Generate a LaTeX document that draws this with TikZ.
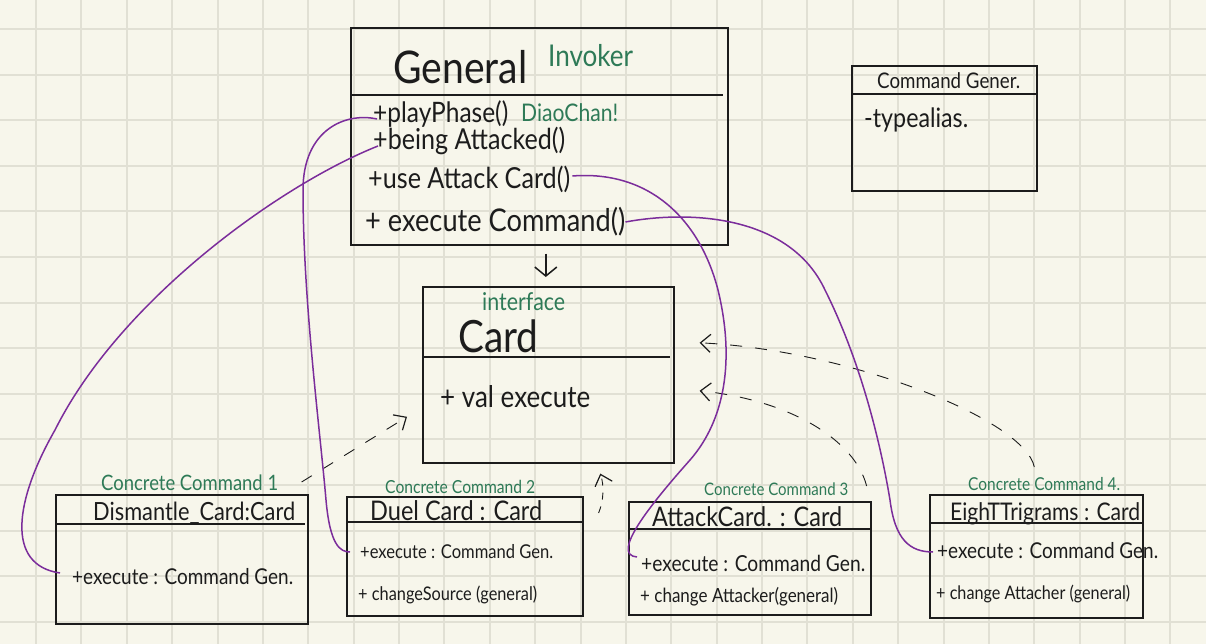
\documentclass[tikz,border=0pt]{standalone}
\usepackage{fontspec}
\usepackage{graphicx}
\setmainfont{Lato}
\usetikzlibrary{arrows.meta}
\definecolor{paper}{HTML}{F7F6EB}
\definecolor{gridc}{HTML}{E1E0D4}
\definecolor{ink}{HTML}{1C1C1C}
\definecolor{note}{HTML}{2E7A57}
\definecolor{link}{HTML}{7B2D9B}
\newcommand{\fitw}[2]{\scalebox{1}[1.15]{\resizebox{#1pt}{!}{#2}}}
\begin{document}
\begin{tikzpicture}[x=1pt,y=-1pt,
  umlbox/.style={draw=ink, line width=1.6pt, inner sep=0pt, anchor=north west},
  sepline/.style={draw=ink, line width=1.4pt},
  txt/.style={inner sep=0pt, anchor=base west, text=ink},
  notetxt/.style={inner sep=0pt, anchor=base west, text=note},
  linkline/.style={draw=link, line width=1.5pt},
  gridl/.style={draw=gridc, line width=2pt},
  assoc/.style={draw=ink, line width=1.4pt, -{Straight Barb[length=9pt,width=22pt,line width=1.5pt]}},
  realize/.style={draw=ink, line width=0.9pt, dash pattern=on 12pt off 13pt, -{Straight Barb[length=10pt,width=18pt,line width=1.2pt]}},
  shortrealize/.style={realize, dash pattern=on 7pt off 7pt}]
\useasboundingbox (0,0) rectangle (1206,644);
\fill[paper] (0,0) rectangle (1206,644);
\begin{scope}
\clip (0,0) rectangle (1206,644);
\foreach \i in {-1,...,26} { \draw[gridl] ({36+45.375*\i},0) -- ({36+45.375*\i},644); }
\foreach \j in {-1,...,14} { \draw[gridl] (0,{29+45.6*\j}) -- (1206,{29+45.6*\j}); }
\end{scope}

% General
\node[umlbox, minimum width=377pt, minimum height=217pt] (gen) at (350,27) {};
\draw[sepline] (350,95) -- (723,95);
\node[txt] (gtitle) at (393,84) {\fitw{134}{General}};
\node[notetxt] (ginv) at (548,67) {\fitw{85}{Invoker}};
\node[txt] (gplay) at (373,123) {\fitw{135}{+playPhase()}};
\node[notetxt] (gdiao) at (521,122) {\fitw{97}{DiaoChan!}};
\node[txt] (gatt) at (373,150) {\fitw{192}{+being Attacked()}};
\node[txt] (guse) at (368,189) {\fitw{202}{+use Attack Card()}};
\node[txt] (gexe) at (365,231) {\fitw{260}{+ execute Command()}};

% Command Gener
\node[umlbox, minimum width=185pt, minimum height=125pt] (cg) at (851,65) {};
\draw[sepline] (851,94) -- (1036,94);
\node[txt] (cgt) at (877,89) {\fitw{143}{Command Gener.}};
\node[txt] (cga) at (864,128) {\fitw{104}{-typealias.}};

% Card
\node[umlbox, minimum width=251pt, minimum height=176pt] (card) at (422,286) {};
\draw[sepline] (422,357) -- (670,357);
\node[notetxt] (cif) at (482,310) {\fitw{83}{interface}};
\node[txt] (ct) at (458,352) {\fitw{80}{Card}};
\node[txt] (cval) at (440,407) {\fitw{150}{+ val execute}};

% Concrete command 1
\node[umlbox, minimum width=252pt, minimum height=129pt] (d1) at (55,494) {};
\draw[sepline] (55,524) -- (305,524);
\node[notetxt] (d1n) at (101,490) {\fitw{177}{Concrete Command 1}};
\node[txt] (d1t) at (93,520) {\fitw{202}{Dismantle\_Card:Card}};
\node[txt] (d1e) at (72,584) {\fitw{221}{+execute : Command Gen.}};

% Concrete command 2
\node[umlbox, minimum width=236pt, minimum height=119pt] (d2) at (346,496) {};
\draw[sepline] (346,522) -- (582,522);
\node[notetxt] (d2n) at (385,493) {\fitw{150}{Concrete Command 2}};
\node[txt] (d2t) at (370,520) {\fitw{172}{Duel Card : Card}};
\node[txt] (d2e) at (360,558) {\fitw{193}{+execute : Command Gen.}};
\node[txt] (d2c) at (358,600) {\fitw{179}{+ changeSource (general)}};

% Concrete command 3
\node[umlbox, minimum width=242pt, minimum height=113pt] (d3) at (628,501) {};
\draw[sepline] (628,529) -- (870,529);
\node[notetxt] (d3n) at (704,495) {\fitw{144}{Concrete Command 3}};
\node[txt] (d3t) at (652,526) {\fitw{190}{AttackCard. : Card}};
\node[txt] (d3e) at (641,571) {\fitw{224}{+execute : Command Gen.}};
\node[txt] (d3c) at (640,602) {\fitw{198}{+ change Attacker(general)}};

% Concrete command 4
\node[umlbox, minimum width=213pt, minimum height=123pt] (d4) at (929,494) {};
\draw[sepline] (929,523) -- (1142,523);
\node[notetxt] (d4n) at (968,490) {\fitw{152}{Concrete Command 4.}};
\node[txt] (d4t) at (950,520) {\fitw{190}{EighTTrigrams : Card}};
\node[txt] (d4e) at (937,558) {\fitw{221}{+execute : Command Gen.}};
\node[txt] (d4c) at (936,599) {\fitw{194}{+ change Attacher (general)}};

% association arrow
\draw[assoc, shorten <=8pt, shorten >=9pt] ([xshift=-2.5pt]card.north |- gen.south) -- ([xshift=-2.5pt]card.north);

% realization arrows
\draw[realize] ([shift={(-7,-12)}]d1.north east) -- ([shift={(-15,42)}]card.west);
\draw[shortrealize] ([shift={(15,17)}]d2.north east) .. controls (604,500) and (604,485) .. ([shift={(52,10)}]card.south);
\draw[realize] ([shift={(-5,-15)}]d3.north east) .. controls (855,440) and (790,400) .. ([shift={(25,16)}]card.east);
\draw[realize] ([shift={(-2,-27)}]d4.north) .. controls (1025,420) and (850,350) .. ([shift={(25,-32)}]card.east);

% purple links
\draw[linkline] ([shift={(4,-4)}]gplay.base west) .. controls (345,112) and (303,130) .. (303,190) .. controls (303,300) and (320,430) .. (326,500) .. controls (330,545) and (340,552) .. ([shift={(-10,-6)}]d2e.base west);
\draw[linkline] ([shift={(5,-4)}]gatt.base west) .. controls (280,185) and (120,300) .. (55,430) .. controls (15,500) and (5,565) .. ([shift={(-12,-11)}]d1e.base west);
\draw[linkline] ([shift={(2,-13)}]guse.base east) .. controls (650,170) and (700,220) .. (718,290) .. controls (735,360) and (725,420) .. (690,460) .. controls (650,505) and (610,555) .. ([shift={(-4,-14)}]d3e.base west);
\draw[linkline] ([shift={(0,-9)}]gexe.base east) .. controls (690,210) and (790,215) .. (825,290) .. controls (860,360) and (880,440) .. (890,500) .. controls (895,540) and (910,552) .. ([shift={(-4,-6)}]d4e.base west);
\end{tikzpicture}
\end{document}
